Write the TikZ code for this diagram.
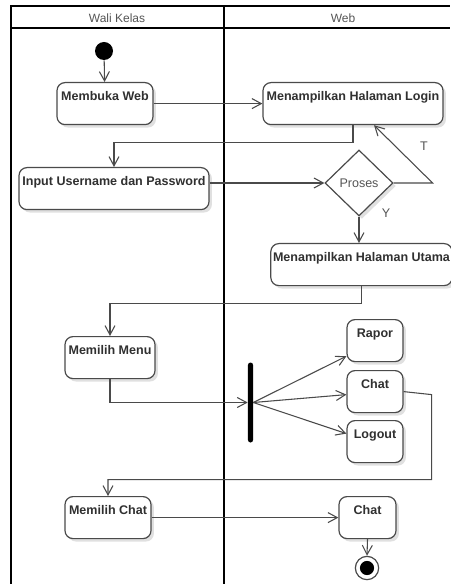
\documentclass[tikz,border=0pt]{standalone}
\usepackage{fontspec}
\setmainfont{Liberation Sans}
\usetikzlibrary{arrows.meta,shapes.geometric,shadows}
\definecolor{ink}{HTML}{303030}
\definecolor{edge}{HTML}{4A4A4A}
\definecolor{lanetext}{HTML}{555555}
\begin{document}
\begin{tikzpicture}[x=0.75pt,y=-0.75pt,
  act/.style={draw=edge, line width=0.9pt, rounded corners=6pt, fill=white,
    anchor=north, inner xsep=0pt, inner ysep=0pt,
    text height=13.5pt, text depth=18pt, text=ink,
    font=\bfseries\fontsize{9.4}{11}\selectfont,
    drop shadow={shadow xshift=2.2pt, shadow yshift=-2.2pt, opacity=0.12, fill=black}},
  flow/.style={draw=edge, line width=0.8pt, -{Straight Barb[length=7pt,width=7.5pt]}},
  lanelabel/.style={text=lanetext, font=\fontsize{9}{11}\selectfont, inner sep=0pt},
  guard/.style={text=lanetext, font=\fontsize{9.4}{11}\selectfont, inner sep=0pt}]
\useasboundingbox (0,0) rectangle (450,584);
\fill[white] (0,0) rectangle (450,584);

% swimlane frame
\draw[black, line width=1pt] (11,584) -- (11,6) -- (450,6);
\draw[black, line width=1.1pt] (11,28) -- (450,28);
\draw[black, line width=2.2pt] (224,6) -- (224,584);
\node[lanelabel] (laneA) at (117,18) {Wali Kelas};
\node[lanelabel] (laneB) at (343,18) {Web};

% initial node
\node[circle, fill=black, minimum size=13.5pt, inner sep=0pt] (start) at (104,51) {};

% actions
\node[act, minimum width=72pt]    (mw)     at (105,82)    {Membuka Web};
\node[act, minimum width=135pt]   (login)  at (353,82)    {Menampilkan Halaman Login};
\node[act, minimum width=142.5pt] (input)  at (114,167)   {Input Username dan Password};
\node[diamond, draw=edge, line width=0.9pt, fill=white, aspect=1, inner sep=0pt,
      minimum width=51pt, minimum height=49.5pt, text=lanetext,
      font=\fontsize{9.4}{11}\selectfont,
      drop shadow={shadow xshift=2.2pt, shadow yshift=-2.2pt, opacity=0.12, fill=black}]
      (dia) at (359,183) {Proses};
\node[act, minimum width=136pt]   (utama)  at (361.5,243) {Menampilkan Halaman Utama};
\node[act, minimum width=67.5pt]  (menu)   at (110,336)   {Memilih Menu};
\node[fill=black, minimum width=3.8pt, minimum height=60pt, rounded corners=1.9pt,
      inner sep=0pt] (fork) at (250.5,402.5) {};
\node[act, minimum width=42pt]    (rapor)  at (375,319)   {Rapor};
\node[act, minimum width=42pt]    (chat)   at (375,370)   {Chat};
\node[act, minimum width=42pt]    (logout) at (375,420)   {Logout};
\node[act, minimum width=64.5pt]  (mchat)  at (108,496)   {Memilih Chat};
\node[act, minimum width=42.75pt] (chatb)  at (367.5,496) {Chat};

% final node
\node[circle, draw=edge, line width=0.9pt, fill=white, minimum size=17.5pt, inner sep=0pt] (end) at (367,568) {};
\fill[black] (end.center) circle (5.3pt);

% guard labels
\node[guard] (gT) at (424,146) {T};
\node[guard] (gY) at (386,213) {Y};

% control flow
\draw[flow] (start) -- (mw);
\draw[flow] (mw.east) -- (login.west |- mw.east);
\draw[flow] (login.south) -- ++(0,17) -| (input.north);
\draw[flow] (input.east |- dia.west) -- (dia.west);
\draw[flow] (dia.east) -- ++(39,0) -- ([xshift=15.75pt]login.south);
\draw[flow] (dia.south) -- (dia.south |- utama.north);
\draw[flow] (utama.south) -- ++(0,17) -| (menu.north);
\draw[flow] (menu.south) |- (fork.west);
\draw[flow] (fork.east) -- ([yshift=4.5pt]rapor.south west);
\draw[flow] (fork.east) -- ([yshift=-2.25pt]chat.west);
\draw[flow] (fork.east) -- ([yshift=6pt]logout.west);
\draw[flow] (chat.east) -- ++(28,3) -- ++(0,85) -| (mchat.north);
\draw[flow] (mchat.east) -- (chatb.west);
\draw[flow] (chatb.south) -- (end.north);
\end{tikzpicture}
\end{document}
